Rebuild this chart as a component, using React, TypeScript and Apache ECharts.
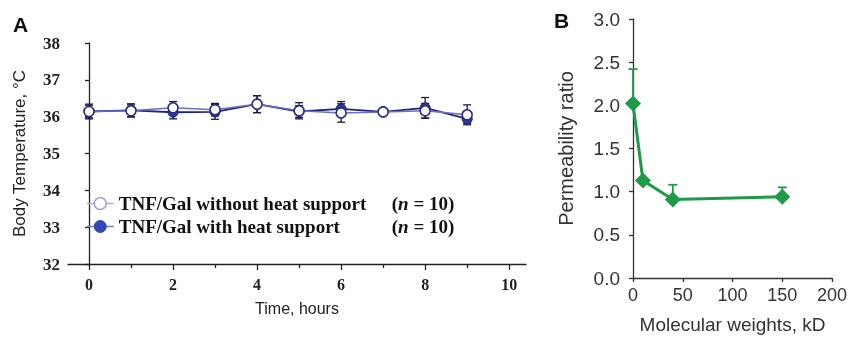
import React, { useEffect, useRef } from "react";
import * as echarts from "echarts";

// Panel A data
const hours = [0, 1, 2, 3, 4, 5, 6, 7, 8, 9];
const tempWithout = [36.14, 36.16, 36.24, 36.19, 36.34, 36.16, 36.1, 36.13, 36.16, 36.05];
const tempWithoutErr = [0.17, 0.16, 0.17, 0.17, 0.23, 0.22, 0.25, 0.08, 0.2, 0.27];
const tempWith = [36.14, 36.17, 36.12, 36.13, 36.34, 36.14, 36.21, 36.13, 36.24, 35.94];
const tempWithErr = [0.2, 0.18, 0.18, 0.2, 0.23, 0.16, 0.2, 0.08, 0.28, 0.12];
const hourLabels = [0, 2, 4, 6, 8, 10];
const hourMinorTicks = [1, 3, 5, 7, 9];
const seriesNames = ["TNF/Gal without heat support", "TNF/Gal with heat support"];
const seriesN = [10, 10];

// Panel B data
const molWeights = [0, 10, 40, 150];
const permRatio = [2.02, 1.13, 0.91, 0.94];
const permErrTop: (number | null)[] = [2.42, null, 1.08, 1.05];

export default function App() {
  const ref = useRef<HTMLDivElement>(null);
  useEffect(() => {
    if (!ref.current) return;
    const chart = echarts.init(ref.current, undefined, { renderer: "svg" });

    const errA = (vals: number[], errs: number[]) =>
      hours.map((h, i) => [h, vals[i] - errs[i], vals[i] + errs[i]]);

    const errRenderA = (color: string) => (params: any, api: any) => {
      const x = api.value(0);
      const p1 = api.coord([x, api.value(1)]);
      const p2 = api.coord([x, api.value(2)]);
      const w = 4;
      const style = { stroke: color, lineWidth: 1.3 };
      return {
        type: "group",
        children: [
          { type: "line", shape: { x1: p1[0], y1: p1[1], x2: p2[0], y2: p2[1] }, style },
          { type: "line", shape: { x1: p1[0] - w, y1: p1[1], x2: p1[0] + w, y2: p1[1] }, style },
          { type: "line", shape: { x1: p2[0] - w, y1: p2[1], x2: p2[0] + w, y2: p2[1] }, style },
        ],
      };
    };

    const errBData = molWeights
      .map((m, i) => (permErrTop[i] == null ? null : [m, permRatio[i], permErrTop[i]]))
      .filter((d) => d != null);

    const green = "#1e9a48";

    const serif = "Liberation Serif";
    const sans = "Liberation Sans";

    chart.setOption({
      animation: false,
      title: [
        { text: "A", left: 13, top: 14, padding: 0, textStyle: { fontFamily: sans, fontWeight: "bold", fontSize: 21, color: "#111" } },
        { text: "B", left: 554, top: 10, padding: 0, textStyle: { fontFamily: sans, fontWeight: "bold", fontSize: 21, color: "#111" } },
      ],
      legend: {
        orient: "vertical",
        left: 86,
        top: 194,
        itemWidth: 27,
        itemHeight: 15,
        itemGap: 4,
        padding: 0,
        data: [
          {
            name: seriesNames[0],
            itemStyle: { color: "#fff", borderColor: "#a0a3d6", borderWidth: 1.5 },
            lineStyle: { color: "#adb0dc", width: 1.5 },
          },
          {
            name: seriesNames[1],
            itemStyle: { color: "#3346b5", borderColor: "#3346b5", borderWidth: 1 },
            lineStyle: { color: "#7a80c0", width: 1.5 },
          },
        ],
        formatter: (name: string) => {
          const i = seriesNames.indexOf(name);
          return `{a|${name}}{b|(}{i|n}{b| = ${seriesN[i]})}`;
        },
        textStyle: {
          fontFamily: serif,
          fontWeight: "bold",
          fontSize: 19,
          color: "#111",
          rich: {
            a: { fontFamily: serif, fontWeight: "bold", fontSize: 19, color: "#111", width: 273, lineHeight: 20 },
            b: { fontFamily: serif, fontWeight: "bold", fontSize: 19, color: "#111", lineHeight: 20 },
            i: { fontFamily: serif, fontWeight: "bold", fontStyle: "italic", fontSize: 19, color: "#111", lineHeight: 20 },
          },
        },
      },
      grid: [
        { left: 68, top: 43, width: 458, height: 221, containLabel: false, outerBoundsMode: "none" },
        { left: 633, top: 19, width: 199, height: 259, containLabel: false, outerBoundsMode: "none" },
      ],
      xAxis: [
        {
          gridIndex: 0,
          type: "value",
          min: -0.5,
          max: 10.4,
          name: "Time, hours",
          nameLocation: "middle",
          nameGap: 36,
          nameTextStyle: { fontFamily: sans, fontSize: 16, color: "#222" },
          axisLine: { lineStyle: { color: "#222", width: 1.3 } },
          axisTick: { show: true, customValues: hourLabels, length: 6, lineStyle: { color: "#222", width: 1.3 } },
          axisLabel: { customValues: hourLabels, fontFamily: serif, fontWeight: "bold", fontSize: 16, color: "#222", margin: 12 },
          splitLine: { show: false },
        },
        {
          gridIndex: 0,
          type: "value",
          position: "bottom",
          offset: 0,
          min: -0.5,
          max: 10.4,
          axisLine: { show: false },
          axisTick: { show: true, customValues: hourMinorTicks, length: 4, lineStyle: { color: "#222", width: 1.3 } },
          axisLabel: { show: false },
          splitLine: { show: false },
        },
        {
          gridIndex: 1,
          type: "value",
          min: 0,
          max: 200,
          interval: 50,
          name: "Molecular weights, kD",
          nameLocation: "middle",
          nameGap: 37,
          nameTextStyle: { fontFamily: sans, fontSize: 19, color: "#333" },
          axisLine: { lineStyle: { color: "#333", width: 1.3 } },
          axisTick: { show: true, length: 4, lineStyle: { color: "#333", width: 1.3 } },
          axisLabel: { fontFamily: sans, fontSize: 18, color: "#333", margin: 8 },
          splitLine: { show: false },
        },
      ],
      yAxis: [
        {
          gridIndex: 0,
          type: "value",
          min: 32,
          max: 38,
          interval: 1,
          name: "Body Temperature, °C",
          nameLocation: "middle",
          nameGap: 40,
          nameTextStyle: { fontFamily: sans, fontSize: 17, color: "#222" },
          axisLine: { show: true, lineStyle: { color: "#222", width: 1.3 } },
          axisTick: { show: true, length: 4, lineStyle: { color: "#222", width: 1.3 } },
          axisLabel: { fontFamily: serif, fontWeight: "bold", fontSize: 17, color: "#222", margin: 8 },
          splitLine: { show: false },
        },
        {
          gridIndex: 1,
          type: "value",
          min: 0,
          max: 3,
          interval: 0.5,
          name: "Permeability ratio",
          nameLocation: "middle",
          nameGap: 57,
          nameTextStyle: { fontFamily: sans, fontSize: 20, color: "#333" },
          axisLine: { show: true, lineStyle: { color: "#333", width: 1.3 } },
          axisTick: { show: true, length: 4, lineStyle: { color: "#333", width: 1.3 } },
          axisLabel: { fontFamily: sans, fontSize: 19, color: "#333", margin: 13, formatter: (v: number) => v.toFixed(1) },
          splitLine: { show: false },
        },
      ],
      series: [
        {
          type: "custom",
          name: "errWith",
          xAxisIndex: 0,
          yAxisIndex: 0,
          renderItem: errRenderA("#1a1a40"),
          encode: { x: 0, y: [1, 2] },
          data: errA(tempWith, tempWithErr),
          z: 1,
        },
        {
          type: "custom",
          name: "errWithout",
          xAxisIndex: 0,
          yAxisIndex: 0,
          renderItem: errRenderA("#1a1a40"),
          encode: { x: 0, y: [1, 2] },
          data: errA(tempWithout, tempWithoutErr),
          z: 1,
        },
        {
          type: "line",
          name: seriesNames[1],
          xAxisIndex: 0,
          yAxisIndex: 0,
          data: hours.map((h, i) => [h, tempWith[i]]),
          symbol: "circle",
          symbolSize: 10,
          lineStyle: { color: "#22237a", width: 1.8 },
          itemStyle: { color: "#2c3a9a", borderColor: "#1d1d70", borderWidth: 1 },
          z: 3,
        },
        {
          type: "line",
          name: seriesNames[0],
          xAxisIndex: 0,
          yAxisIndex: 0,
          data: hours.map((h, i) => [h, tempWithout[i]]),
          symbol: "circle",
          symbolSize: 10,
          lineStyle: { color: "#6a6fc8", width: 1.5 },
          itemStyle: { color: "#ffffff", borderColor: "#2c2c80", borderWidth: 1.6 },
          z: 4,
        },
        {
          type: "custom",
          name: "errB",
          xAxisIndex: 2,
          yAxisIndex: 1,
          encode: { x: 0, y: [1, 2] },
          data: errBData,
          renderItem: (params: any, api: any) => {
            const x = api.value(0);
            const p1 = api.coord([x, api.value(1)]);
            const p2 = api.coord([x, api.value(2)]);
            const w = 4.5;
            const style = { stroke: green, lineWidth: 1.8 };
            return {
              type: "group",
              children: [
                { type: "line", shape: { x1: p1[0], y1: p1[1], x2: p2[0], y2: p2[1] }, style },
                { type: "line", shape: { x1: p2[0] - w, y1: p2[1], x2: p2[0] + w, y2: p2[1] }, style },
              ],
            };
          },
          z: 1,
        },
        {
          type: "line",
          name: "permeability",
          xAxisIndex: 2,
          yAxisIndex: 1,
          data: molWeights.map((m, i) => [m, permRatio[i]]),
          symbol: "diamond",
          symbolSize: 16,
          lineStyle: { color: green, width: 3 },
          itemStyle: { color: green },
          z: 3,
        },
      ],
    });
    return () => chart.dispose();
  }, []);
  return <div ref={ref} style={{ position: "fixed", left: 0, top: 0, width: 848, height: 337 }} />;
}
